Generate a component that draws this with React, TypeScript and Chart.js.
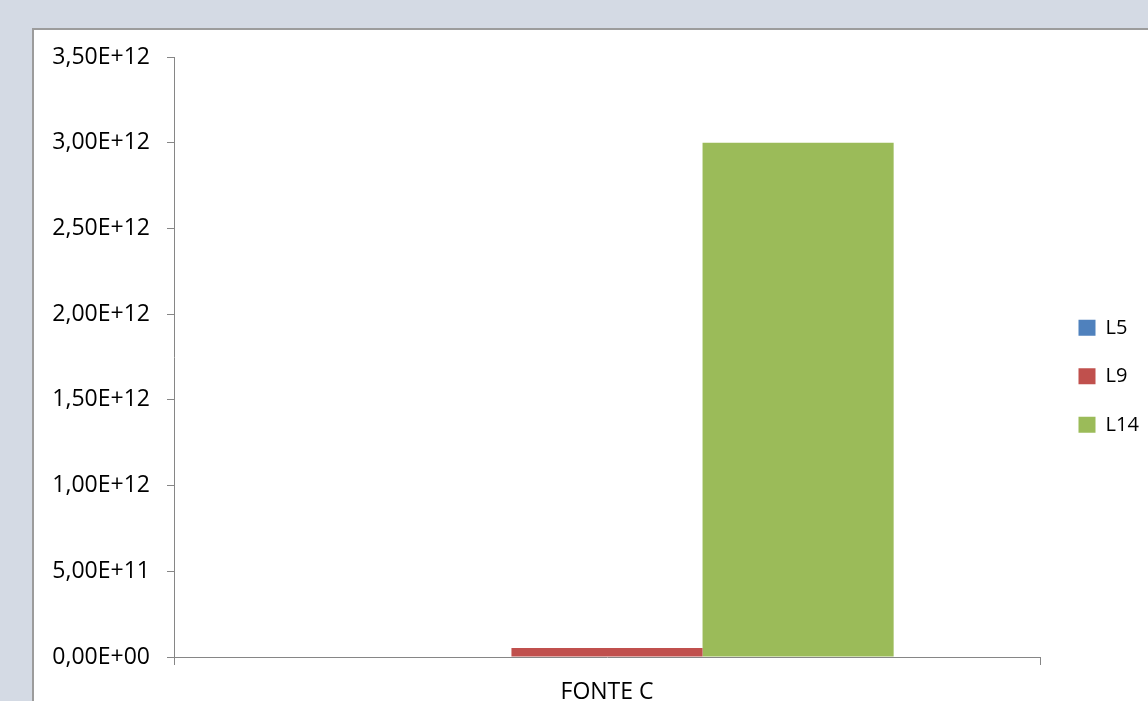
import React, { useEffect, useRef } from "react";
import { Chart, registerables } from "chart.js";

Chart.register(...registerables);

// Data
const categories = ["FONTE C"];
const seriesNames = ["L5", "L9", "L14"];
const seriesColors = ["#4f81bd", "#c0504d", "#9bbb59"];
const valuesL5 = [0];
const valuesL9 = [5.3e10];
const valuesL14 = [3.0e12];
const yMin = 0;
const yMax = 3.5e12;
const yStep = 5e11;

const FONT = "'Open Sans', 'Noto Sans', sans-serif";
const AXIS_GREY = "#868686";

// Excel-style scientific notation with a decimal comma: 3,50E+12
function sciLabel(v: number): string {
  if (v === 0) return "0,00E+00";
  const e = Math.floor(Math.log10(Math.abs(v)) + 1e-9);
  const m = v / Math.pow(10, e);
  const exp = (e >= 0 ? "+" : "-") + String(Math.abs(e)).padStart(2, "0");
  return m.toFixed(2).replace(".", ",") + "E" + exp;
}

export default function App() {
  const canvasRef = useRef<HTMLCanvasElement | null>(null);

  useEffect(() => {
    if (!canvasRef.current) return;
    const seriesValues = [valuesL5, valuesL9, valuesL14];
    const chart = new Chart(canvasRef.current, {
      type: "bar",
      data: {
        labels: categories,
        datasets: seriesNames.map((name, i) => ({
          label: name,
          data: seriesValues[i],
          backgroundColor: seriesColors[i],
          borderWidth: 0,
          categoryPercentage: 0.662,
          barPercentage: 1,
        })),
      },
      options: {
        animation: false,
        responsive: false,
        maintainAspectRatio: false,
        layout: { padding: { top: 16, bottom: 23.4, left: 0, right: 0 } },
        plugins: {
          tooltip: { enabled: false },
          legend: {
            position: "right",
            align: "center",
            maxWidth: 90,
            labels: {
              boxWidth: 17,
              boxHeight: 16,
              padding: 28.5,
              color: "#000",
              font: { family: FONT, size: 20 },
            },
          },
        },
        scales: {
          x: {
            offset: true,
            grid: {
              display: true,
              drawOnChartArea: false,
              drawTicks: true,
              tickLength: 8,
              color: AXIS_GREY,
              offset: true,
            },
            border: { display: true, color: AXIS_GREY, width: 1 },
            ticks: {
              color: "#000",
              padding: 14,
              font: { family: FONT, size: 23 },
            },
            afterFit: (s: any) => {
              s.height = 49.6;
            },
          },
          y: {
            min: yMin,
            max: yMax,
            grid: {
              display: true,
              drawOnChartArea: false,
              drawTicks: true,
              tickLength: 7,
              color: AXIS_GREY,
            },
            border: { display: true, color: AXIS_GREY, width: 1 },
            ticks: {
              stepSize: yStep,
              color: "#000",
              padding: 17,
              font: { family: FONT, size: 23 },
              callback: (v: any) => sciLabel(Number(v)),
            },
            afterFit: (s: any) => {
              s.width = 140;
              s.paddingTop = 27;
              s.paddingBottom = 0;
            },
          },
          gap: {
            type: "linear",
            position: "right",
            display: true,
            grid: { display: false },
            border: { display: false },
            ticks: { display: false },
            afterFit: (s: any) => {
              s.width = 10;
              s.paddingTop = 0;
              s.paddingBottom = 0;
            },
          },
        },
      } as any,
    });
    return () => chart.destroy();
  }, []);

  return (
    <div
      style={{
        position: "fixed",
        inset: 0,
        background: "#d4dae4",
        overflow: "hidden",
      }}
    >
      <div
        style={{
          position: "absolute",
          left: 32,
          top: 28,
          width: 1200,
          height: 760,
          background: "#ffffff",
          borderLeft: "2px solid #9c9c9c",
          borderTop: "2px solid #9c9c9c",
        }}
      >
        <canvas
          ref={canvasRef}
          width={1106}
          height={700}
          style={{ display: "block", width: 1106, height: 700 }}
        />
      </div>
    </div>
  );
}
